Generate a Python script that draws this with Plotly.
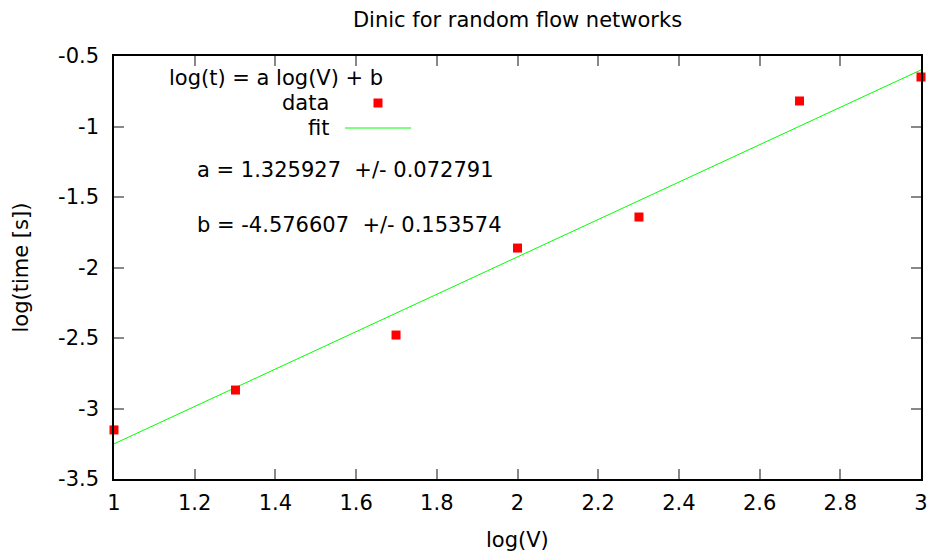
import plotly.graph_objects as go

# data
log_v = [1.0, 1.30103, 1.69897, 2.0, 2.30103, 2.69897, 3.0]
log_t = [-3.152, -2.869, -2.479, -1.862, -1.642, -0.819, -0.649]
fit_a = 1.325927
fit_b = -4.576607
fit_x = [1.0, 3.0]
fit_y = [fit_a * x + fit_b for x in fit_x]

x_tickvals = [1, 1.2, 1.4, 1.6, 1.8, 2, 2.2, 2.4, 2.6, 2.8, 3]
x_ticktext = ["1", "1.2", "1.4", "1.6", "1.8", "2", "2.2", "2.4", "2.6", "2.8", "3"]
y_tickvals = [-3.5, -3, -2.5, -2, -1.5, -1, -0.5]
y_ticktext = ["-3.5", "-3", "-2.5", "-2", "-1.5", "-1", "-0.5"]

FONT = "DejaVu Sans"
FS = 21

L, R, T, B = 114, 11, 56, 77
W, H = 932, 556
PW = W - L - R
PH = H - T - B


def px(x):
    return (x - L) / PW


def py(y):
    return (H - B - y) / PH


fig = go.Figure()
fig.add_trace(go.Scatter(x=fit_x, y=fit_y, mode="lines",
                         line=dict(color="#00ff00", width=1), showlegend=False))
fig.add_trace(go.Scatter(x=log_v, y=log_t, mode="markers",
                         marker=dict(symbol="square", size=9, color="#ff0000", line=dict(width=0)),
                         showlegend=False, cliponaxis=False))

axis_common = dict(showline=True, linecolor="black", linewidth=1.5, mirror="ticks",
                   ticks="inside", ticklen=10, tickcolor="#888888", tickwidth=1.5,
                   showgrid=False, zeroline=False, automargin=False,
                   tickfont=dict(family=FONT, size=FS, color="black"))

fig.update_xaxes(range=[1, 3], tickvals=x_tickvals, ticktext=x_ticktext,
                 ticklabelstandoff=4, **axis_common)
fig.update_yaxes(range=[-3.5, -0.5], tickvals=y_tickvals, ticktext=y_ticktext,
                 ticklabelstandoff=9, **axis_common)

annotations = [
    dict(text="log(t) = a log(V) + b", x=px(167), y=py(78), xanchor="left", yanchor="middle"),
    dict(text="data", x=px(331), y=py(103), xanchor="right", yanchor="middle"),
    dict(text="fit", x=px(331), y=py(128), xanchor="right", yanchor="middle"),
    dict(text="a = 1.325927  +/- 0.072791", x=px(195), y=py(170),
         xanchor="left", yanchor="middle"),
    dict(text="b = -4.576607  +/- 0.153574", x=px(195), y=py(225),
         xanchor="left", yanchor="middle"),
    dict(text="log(V)", x=0.5, y=py(540), xanchor="center", yanchor="middle"),
    dict(text="log(time [s])", x=px(20), y=0.5, textangle=-90,
         xanchor="center", yanchor="middle"),
]
for a in annotations:
    a.update(xref="paper", yref="paper", showarrow=False,
             font=dict(family=FONT, size=FS, color="black"))

shapes = [
    dict(type="rect", xref="paper", yref="paper", xsizemode="pixel", ysizemode="pixel",
         xanchor=px(378), yanchor=py(103),
         x0=-4.5, x1=4.5, y0=-4.5, y1=4.5, fillcolor="#ff0000", line=dict(width=0)),
    dict(type="line", xref="paper", yref="paper",
         x0=px(345), x1=px(411), y0=py(128), y1=py(128),
         line=dict(color="#00ff00", width=1)),
]

fig.update_layout(
    width=W, height=H,
    margin=dict(l=L, r=R, t=T, b=B, autoexpand=False),
    plot_bgcolor="white", paper_bgcolor="white",
    title=dict(text="Dinic for random flow networks", x=517.5 / W, xanchor="center",
               y=1 - 20 / H, yanchor="middle",
               font=dict(family=FONT, size=FS, color="black")),
    annotations=annotations, shapes=shapes,
    font=dict(family=FONT, size=FS, color="black"),
)

fig.write_html("out.html")
